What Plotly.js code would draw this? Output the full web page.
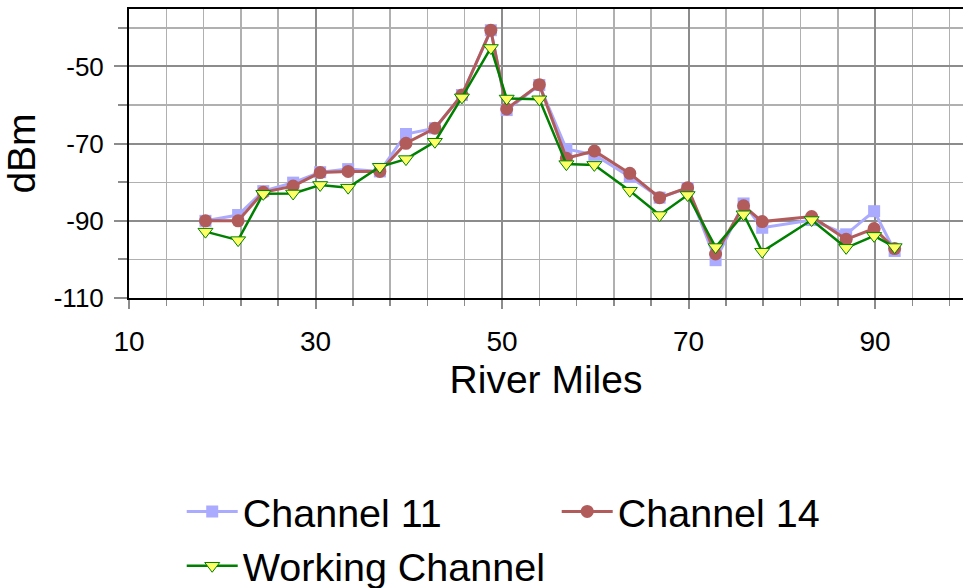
<!DOCTYPE html>
<html>
<head>
<meta charset="utf-8">
<script src="https://cdn.plot.ly/plotly-3.0.1.min.js"></script>
<style>
html,body{margin:0;padding:0;background:#fff;}
#chart{width:963px;height:588px;}
</style>
</head>
<body>
<div id="chart"></div>
<script>
const riverMiles = [18.2, 21.7, 24.4, 27.6, 30.5, 33.5, 36.9, 39.7, 42.8, 45.7, 48.8, 50.5, 54.0, 56.9, 59.9, 63.7, 66.9, 69.9, 72.9, 75.9, 77.9, 83.2, 86.9, 89.9, 92.1];
const channel11 = [-90, -88.5, -82.3, -80.1, -77.4, -76.6, -77.2, -67.5, -66, -57.4, -40.6, -61.3, -54.8, -71.4, -72.9, -78.6, -84, -81.5, -100.2, -85.5, -91.8, -89.8, -93.5, -87.5, -97.8];
const channel14 = [-90, -90, -82.6, -81, -77.5, -77.2, -77.2, -69.9, -66, -57.4, -40.6, -61, -54.7, -73.8, -71.9, -77.7, -84, -81.4, -98.6, -86.1, -90.2, -88.9, -94.8, -92, -97.2];
const workingChannel = [-92.8, -95, -83, -82.9, -80.7, -81.4, -76, -74, -69.5, -58, -45.2, -58.3, -58.5, -75.3, -75.5, -82.2, -88.5, -83.3, -96.8, -88.3, -98, -89.8, -97, -93.9, -96.8];
const seriesNames = ["Channel 11", "Channel 14", "Working Channel"];
const xTickVals = [10, 30, 50, 70, 90];
const yTickVals = [-110, -90, -70, -50];

const FONT = "Arial, 'Liberation Sans', sans-serif";

const traces = [
  {x: riverMiles, y: channel11, name: seriesNames[0], type: 'scatter', mode: 'lines+markers',
   line: {color: '#aaaaff', width: 3},
   marker: {symbol: 'square', size: 12, color: '#aaaaff'}},
  {x: riverMiles, y: channel14, name: seriesNames[1], type: 'scatter', mode: 'lines+markers',
   line: {color: '#b15b5b', width: 3},
   marker: {symbol: 'circle', size: 13, color: '#b15b5b'}},
  {x: riverMiles, y: workingChannel, name: seriesNames[2], type: 'scatter', mode: 'lines+markers',
   line: {color: '#008000', width: 2.5},
   marker: {symbol: 'triangle-down', size: 13, color: '#ffff66', line: {color: '#008000', width: 1}}}
];

const layout = {
  width: 963, height: 588,
  margin: {l: 129, r: 0, t: 9, b: 290, pad: 0, autoexpand: false},
  paper_bgcolor: '#ffffff', plot_bgcolor: '#ffffff',
  font: {family: FONT, color: '#000'},
  showlegend: true,
  xaxis: {
    automargin: false,
    range: [10, 99.43], tickmode: 'array', tickvals: xTickVals, ticktext: xTickVals.map(String),
    showgrid: true, gridcolor: '#8c8c8c', gridwidth: 2,
    minor: {dtick: 4, tick0: 10, showgrid: true, gridcolor: '#b0b0b0', gridwidth: 1.5, ticks: 'outside', ticklen: 6, tickcolor: '#8c8c8c', tickwidth: 1.5},
    ticks: 'outside', ticklen: 9, tickcolor: '#8c8c8c', tickwidth: 2,
    showline: true, linecolor: '#000', linewidth: 2, mirror: true,
    zeroline: false,
    tickfont: {size: 28, family: FONT},
    ticklabelstandoff: 8,
    title: {text: 'River Miles', font: {size: 39, family: FONT}, standoff: 10}
  },
  yaxis: {
    automargin: false,
    range: [-110, -35.1], tickmode: 'array', tickvals: yTickVals, ticktext: yTickVals.map(String),
    showgrid: true, gridcolor: '#8c8c8c', gridwidth: 2,
    minor: {dtick: 10, tick0: -110, showgrid: true, gridcolor: '#b0b0b0', gridwidth: 1.5, ticks: 'outside', ticklen: 9, tickcolor: '#8c8c8c', tickwidth: 2},
    ticks: 'outside', ticklen: 13, tickcolor: '#8c8c8c', tickwidth: 2,
    showline: true, linecolor: '#000', linewidth: 2, mirror: false,
    zeroline: false,
    tickfont: {size: 26, family: FONT},
    ticklabelstandoff: 5,
    title: {text: 'dBm', font: {size: 39, family: FONT}, standoff: 15}
  },
  legend: {
    orientation: 'h', xref: 'container', yref: 'container',
    x: 0.1887, xanchor: 'left', y: 0.185, yanchor: 'top',
    entrywidth: 309, entrywidthmode: 'pixels', itemwidth: 51,
    font: {size: 39.5, family: FONT, color: '#000'},
    bgcolor: 'rgba(0,0,0,0)', traceorder: 'normal'
  }
};

Plotly.newPlot('chart', traces, layout, {staticPlot: true, displayModeBar: false});
</script>
</body>
</html>
